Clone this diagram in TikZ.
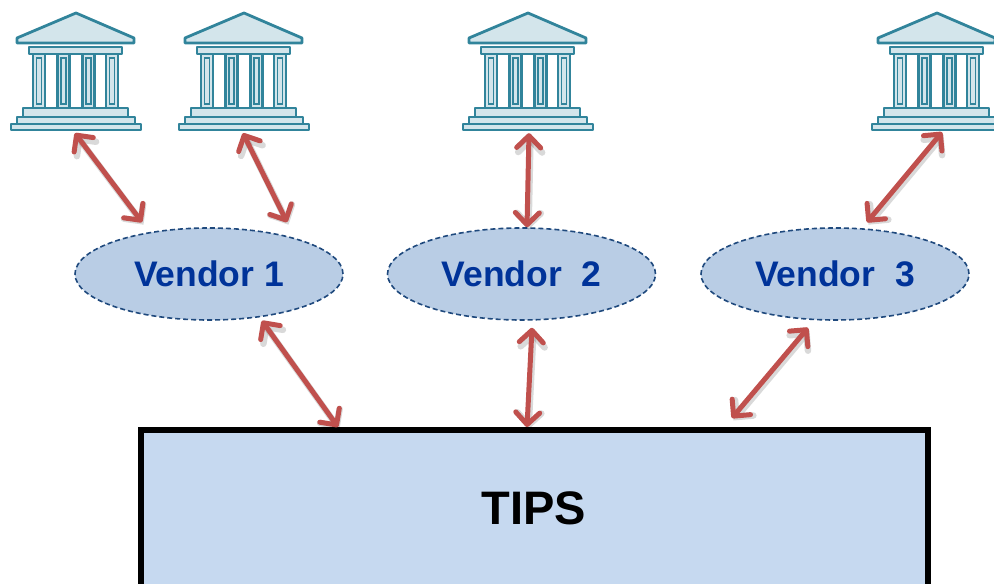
\documentclass[tikz,border=0pt]{standalone}
\usepackage{fontspec}
\setmainfont{Liberation Sans}
\usetikzlibrary{arrows.meta,calc,shapes.geometric}
\definecolor{teal1}{HTML}{31849B}
\definecolor{tealfill}{HTML}{D3E5EB}
\definecolor{arrowred}{HTML}{C0504D}
\definecolor{vfill}{HTML}{B9CDE5}
\definecolor{vline}{HTML}{1F497D}
\definecolor{vtext}{HTML}{003399}
\definecolor{tipsfill}{HTML}{C6D9F0}
\tikzset{
  iconline/.style={draw=teal1,fill=tealfill,line width=2.8bp,line join=round},
  iconinner/.style={draw=teal1,line width=1.6bp},
  bank/.pic={
    \draw[iconline] (-59,43) -- (-59,38) -- (0,13) -- (58,38) -- (58,43) -- cycle;
    \draw[iconline] (-47,47) rectangle (46,54);
    \foreach \cx in {-37,-12.5,12.5,36}{
      \draw[iconline] (\cx-6,54) rectangle (\cx+6,108);
      \draw[iconinner] (\cx-2.5,58) rectangle (\cx+2.5,104);
    }
    \draw[iconline] (-53,108) rectangle (52,117);
    \draw[iconline] (-59,117) rectangle (59,124);
    \draw[iconline] (-65,124) rectangle (65,130);
  },
  banknode/.style={minimum width=130bp,minimum height=118bp,inner sep=0pt},
  vendor/.style={ellipse,draw=vline,fill=vfill,dashed,dash pattern=on 5bp off 3bp,
    line width=1.6bp,minimum width=268bp,minimum height=92bp,inner sep=0pt,
    text=vtext,font=\fontsize{35.5bp}{40bp}\selectfont\bfseries},
  tips/.style={draw=black,fill=tipsfill,line width=6bp,inner sep=0pt},
  link/.style={draw=arrowred,line width=5bp,line cap=round,
    {Straight Barb[length=12bp,width=24bp,line cap=round,line join=round]}-{Straight Barb[length=12bp,width=24bp,line cap=round,line join=round]}},
  linkshadow/.style={draw=black,opacity=0.15,line width=6.5bp,line cap=round,
    {Straight Barb[length=12bp,width=24bp,line cap=round]}-{Straight Barb[length=12bp,width=24bp,line cap=round]}},
}
\begin{document}
\begin{tikzpicture}[x=1bp,y=-1bp]
\useasboundingbox (0,0) rectangle (994,584);
% TIPS box
\draw[tips] (141,430) rectangle (928,600);
\node[font=\fontsize{47bp}{52bp}\selectfont\bfseries] (tips) at (534,508) {TIPS};
% banks
\foreach \n/\cx in {1/76,2/244,3/528,4/937}{
  \pic at (\cx,0) {bank};
  \node[banknode] (bank\n) at (\cx,71) {};
}
% vendors
\node[vendor] (v1) at (209,274) {Vendor 1};
\node[vendor] (v2) at (521.5,274) {Vendor\ \ 2};
\node[vendor] (v3) at (835,274) {Vendor\ \ 3};
% arrow end points
\coordinate (a1s) at ($(bank1.south)+(-1,3)$);
\coordinate (a1e) at ($(v1.north)+(-67,-5)$);
\coordinate (a2s) at ($(bank2.south)+(-1,3)$);
\coordinate (a2e) at ($(v1.north)+(78,-5)$);
\coordinate (a3s) at ($(bank3.south)+(1,3)$);
\coordinate (a3e) at ($(v2.north)+(5.5,0)$);
\coordinate (a4s) at ($(bank4.south)+(5,2)$);
\coordinate (a4e) at ($(v3.north)+(32,-5)$);
\coordinate (b1s) at ($(v1.south)+(53,0)$);
\coordinate (b1e) at (338,427);
\coordinate (b2s) at ($(v2.south)+(10.5,7)$);
\coordinate (b2e) at (527,427);
\coordinate (b3s) at ($(v3.south)+(-27,7)$);
\coordinate (b3e) at (732,418);
\foreach \s/\e in {a1s/a1e,a2s/a2e,a3s/a3e,a4s/a4e,b1s/b1e,b2s/b2e,b3s/b3e}{
  \draw[linkshadow,transform canvas={shift={(1.5bp,-2.5bp)}}] (\s) -- (\e);
}
\foreach \s/\e in {a1s/a1e,a2s/a2e,a3s/a3e,a4s/a4e,b1s/b1e,b2s/b2e,b3s/b3e}{
  \draw[link] (\s) -- (\e);
}
\end{tikzpicture}
\end{document}
